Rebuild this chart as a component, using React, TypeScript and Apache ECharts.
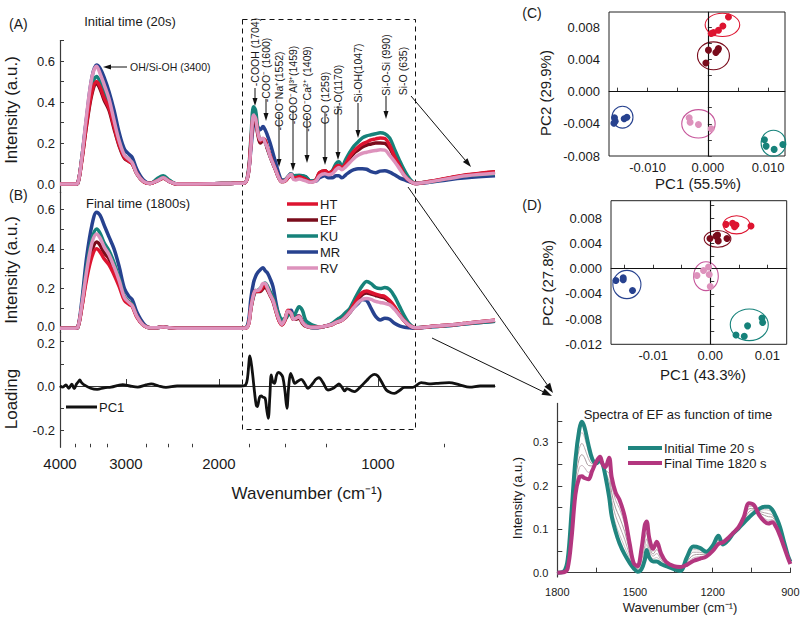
import React, { useEffect, useRef } from "react";
import * as echarts from "echarts";

const FF = '"Liberation Sans", Arial, sans-serif';

// ---------------- main spectra (wavenumber, cm-1) ----------------
const wnMain = [4000, 3750, 3700, 3640, 3560, 3480, 3410, 3360, 3300, 3230,
  3160, 3090, 3020, 2960, 2920, 2860, 2780, 2700, 2620, 2550,
  2480, 2400, 2200, 1900, 1790, 1760, 1740, 1720, 1705, 1690,
  1670, 1650, 1635, 1620, 1600, 1580, 1560, 1540, 1520, 1500,
  1480, 1460, 1445, 1430, 1410, 1390, 1370, 1340, 1310, 1290,
  1260, 1240, 1220, 1200, 1185, 1170, 1150, 1130, 1110, 1090,
  1070, 1050, 1030, 1010, 990, 970, 950, 930, 910, 890,
  870, 850, 800, 740, 680, 600];

// (A) initial time
const A_HT = [0, 0, .005, .11, .30, .45, .50, .475, .42, .37, .28, .19, .13, .11, .10, .05, .012, .003, .015, .028, .012, 0, 0, .003, .005, .05, .2, .33, .32, .26, .21, .22, .215, .18, .14, .1, .065, .03, .012, .015, .03, .045, .03, .03, .035, .03, .022, .01, .02, .055, .065, .055, .06, .085, .09, .08, .1, .135, .16, .18, .195, .205, .215, .22, .225, .222, .19, .135, .09, .04, .015, .003, .012, .028, .045, .06];
const A_EF = [0, 0, .005, .11, .29, .44, .49, .465, .41, .36, .27, .185, .125, .11, .10, .05, .012, .003, .015, .028, .012, 0, 0, .003, .005, .05, .19, .31, .30, .25, .20, .21, .205, .175, .135, .1, .065, .03, .012, .015, .03, .045, .03, .03, .035, .03, .022, .01, .02, .055, .065, .055, .06, .08, .08, .075, .09, .125, .15, .165, .18, .19, .195, .2, .2, .198, .175, .13, .09, .04, .015, .003, .012, .027, .043, .058];
const A_KU = [0, 0, .005, .12, .32, .48, .525, .50, .45, .39, .30, .21, .14, .12, .105, .05, .013, .003, .025, .04, .018, 0, 0, .003, .005, .06, .22, .377, .36, .28, .205, .22, .21, .175, .135, .1, .065, .03, .012, .02, .035, .05, .04, .042, .042, .04, .035, .015, .02, .045, .055, .05, .065, .1, .108, .085, .12, .155, .185, .205, .225, .235, .24, .245, .25, .245, .225, .17, .115, .065, .025, .005, .01, .025, .04, .05];
const A_MR = [0, 0, .005, .12, .33, .52, .58, .565, .52, .45, .36, .25, .17, .145, .13, .07, .02, .004, .015, .03, .012, 0, 0, .003, .005, .05, .17, .29, .30, .28, .265, .28, .265, .24, .2, .15, .1, .05, .02, .02, .035, .05, .04, .04, .042, .04, .035, .015, .015, .03, .04, .03, .03, .04, .04, .03, .045, .06, .07, .075, .075, .072, .06, .055, .063, .065, .058, .045, .03, .02, .01, .003, .008, .02, .03, .04];
const A_RV = [0, 0, .005, .12, .34, .52, .575, .54, .485, .415, .31, .21, .14, .12, .105, .05, .013, .003, .015, .03, .012, 0, 0, .003, .005, .05, .18, .337, .32, .26, .215, .223, .2, .18, .135, .1, .065, .03, .012, .015, .035, .048, .022, .02, .025, .02, .015, .008, .015, .04, .05, .045, .05, .07, .08, .07, .085, .105, .125, .14, .15, .155, .16, .163, .167, .165, .14, .11, .075, .04, .015, .003, .01, .025, .04, .052];

// (B) final time
const B_HT = [0, 0, .005, .1, .25, .36, .40, .385, .35, .32, .27, .21, .14, .12, .11, .055, .015, .003, .003, .006, .003, 0, 0, 0, 0, .015, .1, .165, .185, .185, .19, .21, .22, .2, .17, .14, .09, .04, .017, .04, .09, .075, .045, .05, .06, .03, .012, .005, .005, .006, .01, .015, .02, .03, .035, .04, .06, .085, .12, .155, .18, .188, .18, .172, .165, .16, .14, .11, .07, .035, .012, .002, .008, .015, .025, .04];
const B_EF = [0, 0, .005, .1, .27, .39, .435, .42, .38, .35, .29, .225, .15, .13, .115, .06, .015, .003, .003, .006, .003, 0, 0, 0, 0, .015, .1, .17, .19, .185, .185, .2, .21, .195, .165, .135, .085, .04, .018, .04, .085, .07, .045, .045, .05, .025, .01, .004, .004, .005, .01, .013, .018, .028, .033, .04, .055, .08, .11, .145, .17, .178, .172, .165, .158, .152, .135, .105, .068, .035, .012, .002, .008, .015, .025, .04];
const B_KU = [0, 0, .005, .11, .31, .45, .50, .48, .43, .39, .33, .25, .16, .135, .12, .06, .015, .003, .003, .006, .003, 0, 0, 0, 0, .02, .1, .16, .185, .19, .2, .22, .228, .215, .185, .155, .11, .07, .045, .045, .065, .07, .06, .08, .108, .09, .04, .02, .01, .006, .01, .015, .025, .04, .05, .06, .08, .1, .14, .18, .215, .235, .225, .205, .2, .205, .195, .16, .11, .06, .02, .003, .007, .013, .022, .035];
const B_MR = [0, 0, .005, .13, .36, .52, .585, .57, .52, .46, .40, .31, .2, .16, .145, .08, .025, .003, .003, .006, .003, 0, 0, 0, 0, .03, .15, .23, .26, .28, .295, .305, .29, .28, .25, .21, .13, .065, .037, .05, .085, .09, .06, .06, .062, .035, .015, .004, .002, .003, .01, .015, .022, .03, .04, .045, .06, .08, .105, .125, .145, .14, .1, .06, .042, .05, .045, .025, .012, .005, .002, 0, .006, .012, .022, .035];
const B_RV = [0, 0, .005, .11, .29, .43, .475, .455, .41, .37, .31, .24, .155, .13, .115, .06, .015, .003, .003, .006, .003, 0, 0, 0, 0, .015, .1, .17, .19, .19, .2, .225, .225, .205, .17, .14, .09, .045, .02, .045, .085, .075, .045, .05, .058, .03, .012, .005, .005, .006, .01, .015, .02, .03, .035, .04, .058, .08, .105, .13, .145, .15, .145, .135, .13, .125, .118, .095, .065, .035, .012, .002, .008, .015, .025, .04];

// PC1 loading
const wnLoad = [4000, 3950, 3900, 3850, 3800, 3760, 3720, 3690, 3670, 3640, 3600, 3500, 3400, 3300, 3200, 3100, 3044, 2950, 2850, 2750, 2687, 2600, 2520, 2400, 2200, 2000, 1815, 1780, 1765, 1747, 1730, 1712, 1700, 1692, 1675, 1663, 1652, 1635, 1625, 1613, 1602, 1592, 1582, 1570, 1555, 1542, 1528, 1514, 1500, 1487, 1475, 1463, 1450, 1437, 1420, 1397, 1375, 1357, 1330, 1310, 1293, 1270, 1243, 1215, 1200, 1185, 1170, 1156, 1145, 1135, 1120, 1107, 1080, 1050, 1030, 1015, 1000, 985, 964, 945, 930, 910, 890, 859, 828, 800, 775, 733, 700, 670, 640, 615, 600];
const PC1 = [0, -0.005, 0.005, -0.01, 0.008, -0.012, 0.01, 0.02, 0.027, 0.015, 0.005, -0.01, -0.015, -0.008, -0.005, 0.003, 0.006, 0, -0.005, 0.005, 0.01, 0, -0.006, 0, 0, 0, 0, 0.005, 0.04, 0.135, 0.07, -0.03, -0.085, -0.093, -0.05, -0.045, -0.05, -0.055, -0.1, -0.145, -0.05, 0.05, 0.02, 0.012, 0.05, 0.061, 0.055, 0.04, -0.02, -0.1, 0, 0.057, 0.035, 0.012, 0.02, 0.03, 0.01, -0.01, 0.01, 0.03, 0.037, 0.015, -0.018, -0.01, 0, 0.009, -0.005, -0.022, -0.012, -0.015, -0.022, -0.025, -0.005, 0.025, 0.045, 0.052, 0.045, 0.02, -0.018, -0.03, -0.033, -0.02, -0.006, -0.006, 0.015, 0.01, 0.012, 0.015, 0.005, -0.005, 0, 0, 0];

// axis ticks of the stacked panels
const xMajor = [4000, 3000, 2000, 1000];
const xMinor = [3750, 3500, 3250, 2750, 2500, 2250, 1750, 1500, 1250, 750];

// ---------------- PCA scores ----------------
const C_HT = [[0.00342, 0.00929], [0.00249, 0.00817], [0.00176, 0.00764], [0.00093, 0.00734], [0.00055, 0.00722]];
const C_EF = [[0.0001, 0.00516], [0.00133, 0.00487], [0.00176, 0.00536], [-0.00033, 0.00355], [0.00166, 0.00516]];
const C_KU = [[0.00939, -0.00598], [0.00967, -0.00677], [0.011, -0.00718], [0.01244, -0.00656]];
const C_MR = [[-0.01549, -0.00326], [-0.01537, -0.00368], [-0.01388, -0.00338], [-0.01343, -0.00318], [-0.01559, -0.00393]];
const C_RV = [[-0.0031, -0.00326], [-0.00294, -0.0038], [-0.00156, -0.00409], [0.00055, -0.00462]];
// ellipses: cx, cy, rx, ry  (order HT, EF, KU, MR, RV)
const C_ELL = [[0.00242, 0.0083, 0.00287, 0.00145], [0.00093, 0.00446, 0.00265, 0.00173], [0.01088, -0.0064, 0.00204, 0.00161], [-0.01416, -0.00318, 0.00174, 0.00136], [-0.00156, -0.004, 0.00277, 0.00177]];

const D_HT = [[0.00275, 0.00704], [0.00391, 0.0072], [0.00451, 0.00693], [0.00426, 0.00666], [0.00714, 0.00677]];
const D_EF = [[-0.00005, 0.0048], [0.00128, 0.00533], [0.0014, 0.00442], [0.00293, 0.0048], [0.001, 0.00517]];
const D_KU = [[0.00451, -0.01051], [0.00596, -0.01072], [0.00654, -0.00907], [0.00907, -0.00784], [0.00918, -0.00854]];
const D_MR = [[-0.01654, -0.00187], [-0.01526, -0.00144], [-0.01526, -0.00176], [-0.01363, -0.00347]];
const D_RV = [[-0.00233, -0.00107], [-0.00118, -0.00027], [-0.0003, 0.00026], [-0.00018, -0.00091], [0, -0.00283]];
const D_ELL = [[0.00461, 0.00698, 0.00234, 0.00144], [0.00128, 0.00474, 0.00234, 0.00133], [0.00684, -0.00891, 0.00333, 0.00251], [-0.01461, -0.00251, 0.00246, 0.00224], [-0.00075, -0.00118, 0.00216, 0.00229]];

// ---------------- inset: EF spectra over time ----------------
const wnIn = [1800, 1775, 1760, 1745, 1730, 1715, 1705, 1695, 1680, 1665, 1650, 1635, 1625, 1615, 1600, 1590, 1575, 1560, 1540, 1520, 1505, 1490, 1475, 1462, 1455, 1445, 1430, 1416, 1400, 1380, 1350, 1325, 1300, 1275, 1250, 1225, 1200, 1178, 1160, 1140, 1120, 1100, 1080, 1060, 1040, 1020, 1000, 985, 970, 955, 940, 925, 910, 900];
const EF_20 = [0, .003, .03, .14, .26, .33, .348, .335, .295, .262, .252, .258, .25, .225, .175, .13, .095, .068, .042, .022, .01, .002, .008, .03, .052, .035, .026, .026, .02, .015, .008, .004, .035, .06, .057, .048, .062, .085, .065, .075, .091, .102, .115, .127, .138, .147, .152, .152, .145, .128, .105, .072, .04, .025];
const EF_t1 = [0, .003, .026, .128, .244, .308, .323, .312, .279, .257, .253, .26, .25, .229, .193, .148, .113, .088, .06, .031, .012, .005, .017, .046, .065, .044, .032, .035, .025, .017, .009, .006, .032, .053, .052, .046, .06, .081, .066, .076, .091, .103, .118, .134, .141, .144, .145, .144, .139, .123, .101, .07, .039, .024];
const EF_t2 = [0, .002, .022, .116, .228, .286, .298, .288, .263, .251, .253, .262, .25, .232, .211, .166, .131, .108, .077, .039, .015, .007, .027, .062, .078, .053, .038, .044, .03, .019, .011, .008, .028, .047, .047, .044, .057, .077, .067, .077, .091, .103, .12, .14, .145, .141, .138, .136, .133, .119, .097, .067, .038, .023];
const EF_t3 = [0, .002, .018, .104, .212, .264, .272, .265, .247, .246, .254, .263, .25, .236, .229, .184, .149, .128, .095, .048, .017, .01, .036, .078, .092, .062, .043, .053, .035, .021, .012, .009, .025, .04, .042, .041, .055, .074, .068, .078, .092, .104, .123, .147, .148, .138, .132, .129, .128, .114, .093, .065, .037, .022];
const EF_t4 = [0, .001, .014, .092, .196, .242, .247, .242, .231, .24, .254, .265, .25, .239, .247, .202, .167, .148, .112, .056, .02, .012, .046, .094, .105, .071, .049, .062, .04, .023, .014, .011, .021, .034, .037, .039, .052, .07, .069, .079, .092, .104, .125, .153, .152, .135, .125, .121, .122, .11, .089, .062, .036, .021];
const EF_1820 = [0, .001, .01, .08, .18, .22, .222, .218, .215, .235, .255, .267, .25, .243, .265, .22, .185, .168, .13, .065, .022, .015, .055, .11, .118, .08, .055, .071, .045, .025, .015, .013, .018, .027, .032, .037, .05, .066, .07, .08, .092, .105, .128, .16, .155, .132, .118, .113, .116, .105, .085, .06, .035, .02];

// ---------------- styling ----------------
const COL = { HT: "#dd1430", EF: "#7a0c1c", KU: "#16827a", MR: "#27428f", RV: "#dd92bc" };
const ELL_COL = ["#dd1430", "#7a0c1c", "#16827a", "#27428f", "#c6559a"];
const AX = "#3a3a3a";
const L = (v: number) => Math.log10(v);

function arrow(x1: number, y1: number, x2: number, y2: number, head = 8, w = 3) {
  const a = Math.atan2(y2 - y1, x2 - x1);
  const bx = x2 - head * Math.cos(a), by = y2 - head * Math.sin(a);
  const px = -Math.sin(a) * w, py = Math.cos(a) * w;
  return [
    { type: "line", silent: true, shape: { x1, y1, x2: bx, y2: by }, style: { stroke: "#111", lineWidth: 1 } },
    { type: "polygon", silent: true, shape: { points: [[x2, y2], [bx + px, by + py], [bx - px, by - py]] }, style: { fill: "#111" } },
  ];
}

function txt(x: number, y: number, text: string, size: number, o: any = {}) {
  const align = o.align || "left";
  const va = o.va || "middle";
  return {
    type: "text", x, y, silent: true, rotation: o.rot || 0,
    style: { text, fontSize: size, fontFamily: FF, fill: o.fill || "#1a1a1a", align, verticalAlign: va, textAlign: align, textVerticalAlign: va },
  };
}

function buildOption() {
  const lineS = (name: string, xi: number, yi: number, xs: number[], ys: number[], color: string, w: number, logx: boolean) => ({
    type: "line", name, xAxisIndex: xi, yAxisIndex: yi, showSymbol: false, symbol: "none", smooth: 0.35,
    data: xs.map((x, i) => [logx ? L(x) : x, ys[i]]),
    lineStyle: { color, width: w }, itemStyle: { color }, z: 3, silent: true,
  });

  const specOrder: [string, number[], number[]][] = [
    ["MR", A_MR, B_MR], ["KU", A_KU, B_KU], ["EF", A_EF, B_EF], ["HT", A_HT, B_HT], ["RV", A_RV, B_RV],
  ];

  const series: any[] = [];
  specOrder.forEach(([n, a]) => series.push(lineS(n, 0, 0, wnMain, a, (COL as any)[n], 3.5, true)));
  specOrder.forEach(([n, , b]) => series.push(lineS(n, 1, 1, wnMain, b, (COL as any)[n], 3.5, true)));
  series.push(lineS("PC1", 2, 2, wnLoad, PC1, "#111", 2.8, true));

  const ellipse = (xi: number, yi: number, data: number[][]) => ({
    type: "custom", xAxisIndex: xi, yAxisIndex: yi, silent: true, z: 4, clip: false,
    data,
    renderItem: (params: any, api: any) => {
      const c = api.coord([api.value(0), api.value(1)]);
      const s = api.size([api.value(2), api.value(3)]);
      return {
        type: "ellipse",
        shape: { cx: c[0], cy: c[1], rx: s[0], ry: s[1] },
        style: { fill: "none", stroke: ELL_COL[params.dataIndex], lineWidth: 1.1 },
      };
    },
  });
  const scat = (xi: number, yi: number, data: number[][], color: string, extra: any = {}) => ({
    type: "scatter", xAxisIndex: xi, yAxisIndex: yi, symbolSize: 7, data, silent: true,
    itemStyle: { color, opacity: 1 }, z: 5, ...extra,
  });
  const zeroLines = {
    markLine: {
      silent: true, symbol: ["none", "none"], label: { show: false },
      lineStyle: { color: "#111", type: "solid", width: 1 },
      data: [{ xAxis: 0 }, { yAxis: 0 }],
    },
  };
  series.push(scat(4, 3, C_HT, COL.HT, zeroLines));
  series.push(scat(4, 3, C_EF, COL.EF), scat(4, 3, C_KU, COL.KU), scat(4, 3, C_MR, COL.MR), scat(4, 3, C_RV, COL.RV));
  series.push(ellipse(4, 3, C_ELL));
  series.push(scat(5, 4, D_HT, COL.HT, zeroLines));
  series.push(scat(5, 4, D_EF, COL.EF), scat(5, 4, D_KU, COL.KU), scat(5, 4, D_MR, COL.MR), scat(5, 4, D_RV, COL.RV));
  series.push(ellipse(5, 4, D_ELL));

  const grays = ["#cdbfc4", "#b9a9ae", "#a8999d", "#c3aeb8"];
  [EF_t1, EF_t2, EF_t3, EF_t4].forEach((d, i) => series.push(lineS("g" + i, 6, 5, wnIn, d, grays[i], 1, false)));
  series.push(lineS("Initial Time 20 s", 6, 5, wnIn, EF_20, "#20857f", 4, false));
  series.push(lineS("Final Time 1820 s", 6, 5, wnIn, EF_1820, "#b3367f", 4, false));

  const lab = (size: number, margin: number, extra: any = {}) => ({ fontSize: size, color: "#1a1a1a", fontFamily: FF, margin, ...extra });
  const axLine = { show: true, lineStyle: { color: AX, width: 1.2 } };
  const tick = (len: number, values?: number[]) => ({ show: true, inside: true, length: len, lineStyle: { color: AX, width: 1 }, ...(values ? { customValues: values } : {}) });

  const logMin = L(600), logMax = L(4000);
  const xAxis: any[] = [
    { gridIndex: 0, type: "value", min: logMin, max: logMax, inverse: true, show: false },
    { gridIndex: 1, type: "value", min: logMin, max: logMax, inverse: true, show: false },
    {
      gridIndex: 2, type: "value", min: logMin, max: logMax, inverse: true,
      axisLine: axLine, axisTick: tick(7, xMajor.map(L)), splitLine: { show: false },
      axisLabel: lab(15, 9, { customValues: xMajor.map(L), formatter: (v: number) => String(Math.round(Math.pow(10, v))) }),
    },
    {
      gridIndex: 2, type: "value", min: logMin, max: logMax, inverse: true, position: "bottom",
      axisLine: { show: false }, axisTick: tick(3.5, xMinor.map(L)), axisLabel: { show: false }, splitLine: { show: false },
    },
    {
      gridIndex: 3, type: "value", min: -0.0164, max: 0.0128, axisLine: axLine,
      axisTick: tick(4, [-0.015, -0.01, -0.005, 0, 0.005, 0.01]), splitLine: { show: false },
      axisLabel: lab(13, 5, { customValues: [-0.01, 0, 0.01], formatter: (v: number) => v.toFixed(3) }),
    },
    {
      gridIndex: 4, type: "value", min: -0.0174, max: 0.0134, axisLine: axLine,
      axisTick: tick(4, [-0.015, -0.01, -0.005, 0, 0.005, 0.01]), splitLine: { show: false },
      axisLabel: lab(13, 5, { customValues: [-0.01, 0, 0.01], formatter: (v: number) => v.toFixed(2) }),
    },
    {
      gridIndex: 5, type: "value", min: 900, max: 1800, interval: 150, inverse: true, axisLine: axLine,
      axisTick: tick(5), splitLine: { show: false },
      axisLabel: lab(11, 9, { formatter: (v: number) => ((v - 900) % 300 === 0 ? String(v) : "") }),
    },
  ];
  const yAxis: any[] = [
    {
      gridIndex: 0, type: "value", min: -0.04, max: 0.7, axisLine: axLine,
      axisTick: tick(4, [0, 0.1, 0.2, 0.3, 0.4, 0.5, 0.6, 0.7]), splitLine: { show: false },
      axisLabel: lab(13, 5, { customValues: [0, 0.2, 0.4, 0.6], formatter: (v: number) => v.toFixed(1) }),
    },
    {
      gridIndex: 1, type: "value", min: -0.02, max: 0.685, axisLine: axLine,
      axisTick: tick(4, [0, 0.1, 0.2, 0.3, 0.4, 0.5, 0.6]), splitLine: { show: false },
      axisLabel: lab(13, 5, {
        customValues: [0, 0.2, 0.4, 0.6], lineHeight: 12,
        formatter: (v: number) => (v === 0 ? "{u|0.0}" : v.toFixed(1)),
        rich: { u: { fontSize: 13, fontFamily: FF, color: "#1a1a1a", lineHeight: 12, padding: [0, 0, 3, 0] } },
      }),
    },
    {
      gridIndex: 2, type: "value", min: -0.2755, max: 0.2418, axisLine: axLine,
      axisTick: tick(4, [-0.2, -0.1, 0, 0.1, 0.2]), splitLine: { show: false },
      axisLabel: lab(13, 5, {
        customValues: [-0.2, 0, 0.2], lineHeight: 12,
        formatter: (v: number) => (v === 0.2 ? "{d|0.2}" : v.toFixed(1)),
        rich: { d: { fontSize: 13, fontFamily: FF, color: "#1a1a1a", lineHeight: 12, padding: [3, 0, 0, 0] } },
      }),
    },
    {
      gridIndex: 3, type: "value", min: -0.008, max: 0.0099, axisLine: axLine,
      axisTick: tick(4, [-0.008, -0.006, -0.004, -0.002, 0, 0.002, 0.004, 0.006, 0.008]), splitLine: { show: false },
      axisLabel: lab(13, 9, { customValues: [-0.008, -0.004, 0, 0.004, 0.008], formatter: (v: number) => v.toFixed(3) }),
    },
    {
      gridIndex: 4, type: "value", min: -0.012, max: 0.0108, axisLine: axLine,
      axisTick: tick(4, [-0.012, -0.01, -0.008, -0.006, -0.004, -0.002, 0, 0.002, 0.004, 0.006, 0.008, 0.01]), splitLine: { show: false },
      axisLabel: lab(13, 9, { customValues: [-0.012, -0.008, -0.004, 0, 0.004, 0.008], formatter: (v: number) => v.toFixed(3) }),
    },
    {
      gridIndex: 5, type: "value", min: -0.01, max: 0.39, axisLine: axLine,
      axisTick: tick(5, [0, 0.05, 0.1, 0.15, 0.2, 0.25, 0.3, 0.35]), splitLine: { show: false },
      axisLabel: lab(11, 9, { customValues: [0, 0.1, 0.2, 0.3], formatter: (v: number) => v.toFixed(1) }),
    },
  ];

  const g = (o: any) => ({ ...o, outerBoundsMode: "none", containLabel: false });
  const grid = [
    g({ left: 60, top: 40.5, width: 435, height: 151.7 }),
    g({ left: 60, top: 192.3, width: 435, height: 139.9 }),
    g({ left: 60, top: 332.2, width: 435, height: 115.1 }),
    g({ left: 609, top: 12, width: 176, height: 144, show: true, borderColor: "#222", borderWidth: 1, backgroundColor: "transparent" }),
    g({ left: 611, top: 200.7, width: 175.7, height: 143.6, show: true, borderColor: "#222", borderWidth: 1, backgroundColor: "transparent" }),
    g({ left: 557.3, top: 403.4, width: 233.1, height: 173.6 }),
  ];

  const R = Math.PI / 2;
  const els: any[] = [];
  // panel labels and titles
  els.push(txt(9, 24, "(A)", 14), txt(130, 21, "Initial time (20s)", 13, { align: "center" }));
  els.push(txt(9, 195, "(B)", 14), txt(138, 203, "Final time (1800s)", 13, { align: "center" }));
  els.push(txt(532, 13, "(C)", 14, { align: "center" }), txt(532, 205, "(D)", 14, { align: "center" }));
  els.push(txt(11, 110, "Intensity (a.u.)", 17, { align: "center", rot: R }));
  els.push(txt(11, 270, "Intensity (a.u.)", 17, { align: "center", rot: R }));
  els.push(txt(11, 399, "Loading", 17, { align: "center", rot: R }));
  els.push(txt(307, 493, "Wavenumber (cm\u207B\u00B9)", 17, { align: "center" }));
  els.push(txt(698, 183, "PC1 (55.5%)", 15, { align: "center" }), txt(545, 93, "PC2 (29.9%)", 15, { align: "center", rot: R }));
  els.push(txt(703, 374, "PC1 (43.3%)", 15, { align: "center" }), txt(547, 283, "PC2 (27.8%)", 15, { align: "center", rot: R }));
  els.push(txt(678, 414, "Spectra of EF as function of time", 13, { align: "center" }));
  els.push(txt(517, 498, "Intensity (a.u.)", 13, { align: "center", rot: R }));
  els.push(txt(680, 607, "Wavenumber (cm\u207B\u00B9)", 13, { align: "center" }));

  // dashed box
  els.push({ type: "rect", silent: true, shape: { x: 242.5, y: 19.5, width: 173, height: 410 }, style: { fill: "none", stroke: "#111", lineWidth: 1, lineDash: [5, 4] } });

  // OH label
  els.push(...arrow(127, 67, 103, 67, 8, 2.5), txt(130, 67, "OH/Si-OH (3400)", 10.5));
  // band labels
  const bands: [number, number, string, number | null, number][] = [
    [255, 52, "-COOH (1704)", 88, 106],
    [266, 70, "-COO\u207B (1600)", 99, 121],
    [279, 91, "-COO\u207BNa\u207A(1552)", 114, 167],
    [293, 85, "-COO\u207BAl\u00B3\u207A(1459)", 110, 171],
    [307, 89, "-COO\u207BCa\u00B2\u207A (1409)", 116, 163],
    [325, 98, "C-O (1259)", 113, 165],
    [338, 90, "Si-O(1170)", 106, 160],
    [358, 73, "Si-OH(1047)", 103, 138],
    [386, 65, "Si-O-Si (990)", 96, 119],
    [403, 71, "Si-O (635)", null, 0],
  ];
  bands.forEach(([x, cy, t, y1, y2]) => {
    els.push(txt(x, cy, t, 10.5, { align: "center", rot: R }));
    if (y1 !== null) els.push(...arrow(x, y1, x, y2, 8, 2.5));
  });
  els.push(...arrow(411, 96, 471, 167, 9, 3));
  els.push(...arrow(408, 187, 553, 393, 10, 3.5));
  els.push(...arrow(432, 338, 552, 396, 10, 3.5));

  // legend B
  const leg: [string, string][] = [["HT", COL.HT], ["EF", COL.EF], ["KU", COL.KU], ["MR", COL.MR], ["RV", COL.RV]];
  leg.forEach(([n, c], i) => {
    const y = 204 + i * 16;
    els.push({ type: "line", silent: true, shape: { x1: 287, y1: y, x2: 318, y2: y }, style: { stroke: c, lineWidth: 3.5 } });
    els.push(txt(320, y, n, 13));
  });
  // loading legend
  els.push({ type: "line", silent: true, shape: { x1: 66, y1: 407, x2: 97, y2: 407 }, style: { stroke: "#111", lineWidth: 3 } });
  els.push(txt(99, 407, "PC1", 13));
  // inset legend
  els.push({ type: "line", silent: true, shape: { x1: 628, y1: 448, x2: 662, y2: 448 }, style: { stroke: "#20857f", lineWidth: 4 } });
  els.push(txt(664, 448, "Initial Time 20 s", 13));
  els.push({ type: "line", silent: true, shape: { x1: 628, y1: 463, x2: 662, y2: 463 }, style: { stroke: "#b3367f", lineWidth: 4 } });
  els.push(txt(664, 463, "Final Time 1820 s", 13));

  return {
    animation: false,
    backgroundColor: "#ffffff",
    textStyle: { fontFamily: FF },
    grid, xAxis, yAxis, series,
    graphic: { elements: els },
  };
}

export default function App() {
  const ref = useRef<HTMLDivElement>(null);
  useEffect(() => {
    const chart = echarts.init(ref.current!, null, { renderer: "svg" });
    chart.setOption(buildOption() as any);
    return () => chart.dispose();
  }, []);
  return <div ref={ref} style={{ position: "fixed", left: 0, top: 0, width: 800, height: 618, background: "#fff" }} />;
}
